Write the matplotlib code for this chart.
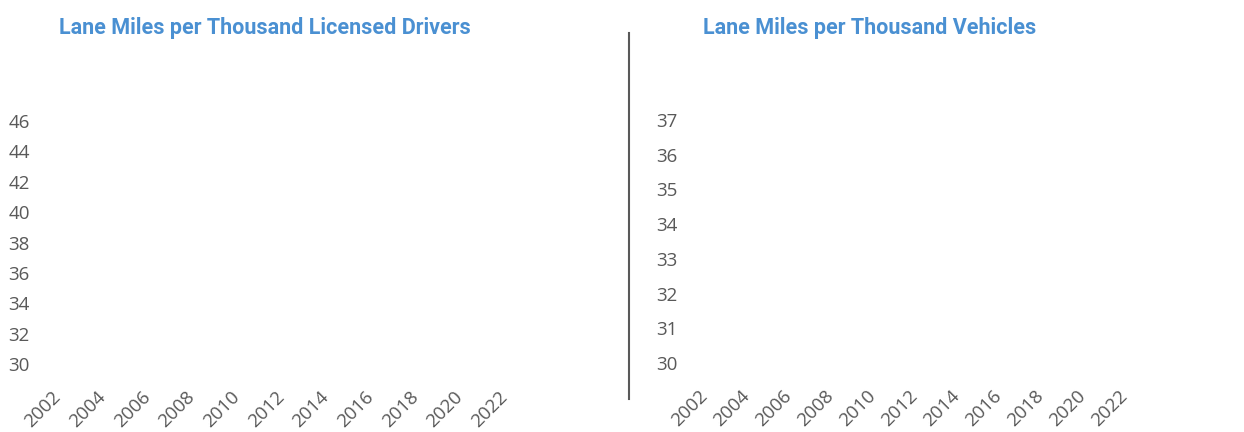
import matplotlib
matplotlib.use("Agg")
import matplotlib.pyplot as plt
from matplotlib.lines import Line2D

# ---- data (the reference chart shows no plotted series, only axes) ----
years = list(range(2002, 2023))
year_tick_labels = [str(y) for y in range(2002, 2023, 2)]
drivers_yticks = [30, 32, 34, 36, 38, 40, 42, 44, 46]
vehicles_yticks = [30, 31, 32, 33, 34, 35, 36, 37]
title_left = "Lane Miles per Thousand Licensed Drivers"
title_right = "Lane Miles per Thousand Vehicles"

W, H = 1244, 432
DPI = 100
fig = plt.figure(figsize=(W / DPI, H / DPI), dpi=DPI)
fig.patch.set_facecolor("white")

TICK_COLOR = "#595959"
TITLE_COLOR = "#4A90D2"
tick_font = ["Open Sans", "DejaVu Sans"]
title_font = ["Roboto", "DejaVu Sans"]


def px_axes(x0, x1, y_top, y_bot):
    return [x0 / W, (H - y_bot) / H, (x1 - x0) / W, (y_bot - y_top) / H]


def style(ax, yticks):
    ax.set_xlim(years[0] - 0.5, years[-1] + 0.5)
    ax.set_ylim(yticks[0], yticks[-1])
    ax.set_yticks(yticks)
    ax.set_yticklabels([str(v) for v in yticks])
    xt = [int(s) for s in year_tick_labels]
    ax.set_xticks(xt)
    ax.set_xticklabels(year_tick_labels, rotation=45, ha="right", va="center",
                       rotation_mode="anchor")
    for s in ax.spines.values():
        s.set_visible(False)
    ax.tick_params(axis="both", length=0, colors=TICK_COLOR, labelsize=13.5)
    ax.tick_params(axis="y", pad=12.4)
    ax.tick_params(axis="x", pad=22)
    for lab in ax.get_xticklabels() + ax.get_yticklabels():
        lab.set_fontfamily(tick_font)
        lab.set_color(TICK_COLOR)
    ax.set_facecolor("none")


ax1 = fig.add_axes(px_axes(47, 516, 121, 364))
style(ax1, drivers_yticks)
ax2 = fig.add_axes(px_axes(694.5, 1135.5, 120, 363))
style(ax2, vehicles_yticks)

fig.text(265 / W, 1 - 28 / H, title_left, ha="center", va="center",
         color=TITLE_COLOR, fontsize=15.5, fontweight="bold", family=title_font)
fig.text(870 / W, 1 - 28 / H, title_right, ha="center", va="center",
         color=TITLE_COLOR, fontsize=15.5, fontweight="bold", family=title_font)

fig.add_artist(Line2D([628.5 / W, 628.5 / W], [1 - 33 / H, 1 - 399 / H],
                      transform=fig.transFigure, color="#595959", linewidth=1.5))

fig.savefig("out.png", dpi=DPI, facecolor="white")
